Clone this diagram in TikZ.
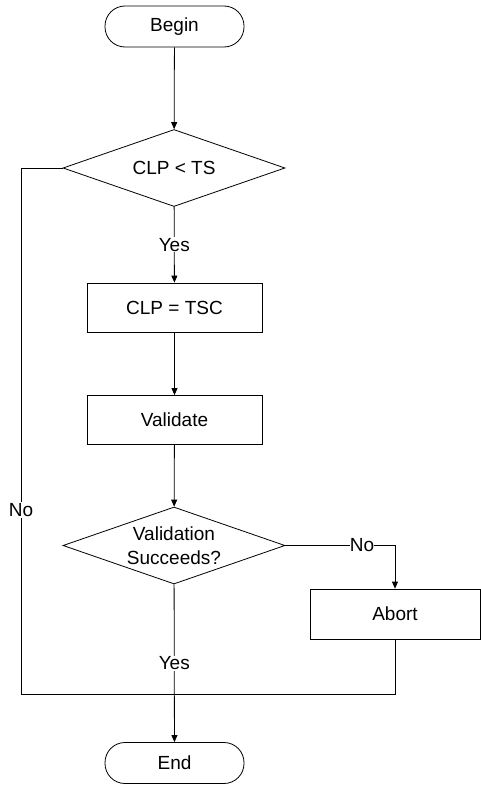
\documentclass[tikz,border=0pt]{standalone}
\usepackage{fontspec}
\setmainfont{Liberation Sans}
\usepackage{tikz}
\usetikzlibrary{shapes.geometric,arrows.meta}

\begin{document}
\begin{tikzpicture}[x=1pt, y=-1pt,
    font=\fontsize{19}{24}\selectfont,
    every path/.style={line width=0.8pt},
    term/.style={draw, rounded corners=20pt, minimum width=139pt, minimum height=41pt, inner sep=0pt},
    procbox/.style={draw, minimum width=175pt, minimum height=49pt, inner sep=0pt},
    decide/.style={draw, diamond, aspect=2.9, minimum width=222pt, minimum height=77pt, inner sep=0pt, align=center},
    arr/.style={-{Triangle[length=7pt, width=6pt]}},
    lbl/.style={fill=white, inner sep=1pt}]

\useasboundingbox (0,0) rectangle (481,787);

% Start
\node[term] (begin) at (174.5, 26.5) {Begin};

% First check
\node[decide] (clp) at (174, 168) {CLP < TS};

% Steps
\node[procbox] (assign) at (174.5, 307.5) {CLP = TSC};
\node[procbox] (valid) at (174.5, 420) {Validate};

% Second check
\node[decide] (succ) at (174, 545.5) {Validation\\Succeeds?};

% Abort branch
\node[procbox, minimum width=170pt, minimum height=50pt] (abort) at (395, 614) {Abort};

% Finish
\node[term] (end) at (174.5, 763) {End};

\coordinate (loop) at (21, 694);

% Arrows
\draw[arr] (begin) -- (clp);
\draw[arr] (clp) -- node[lbl]{Yes} (assign);
\draw[arr] (assign) -- (valid);
\draw[arr] (valid) -- (succ);
\draw[arr] (succ.east) -| node[lbl, pos=0.35, inner sep=0pt]{No} (abort.north);
\draw[arr] (succ) -- node[lbl]{Yes} (end);

% Loop back to the end
\draw (abort.south) |- (loop) -- node[lbl, pos=0.35]{No} (loop |- clp.west) -- (clp.west);

\end{tikzpicture}
\end{document}
